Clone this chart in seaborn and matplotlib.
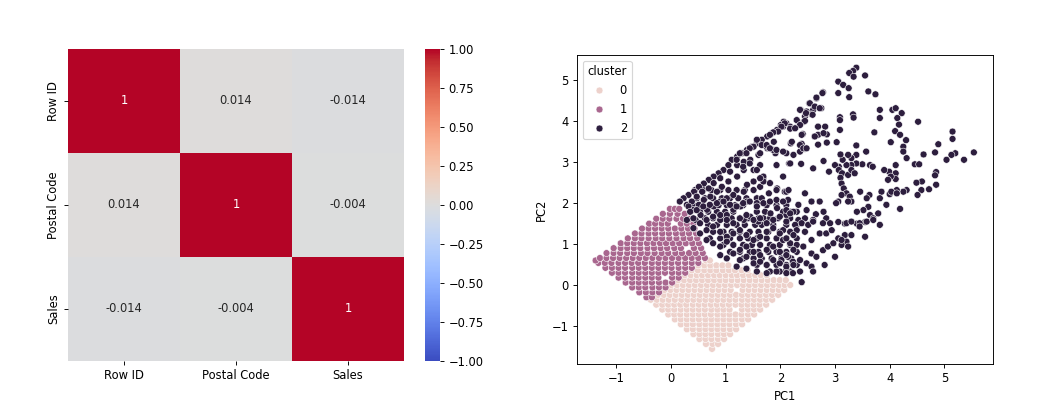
import matplotlib
matplotlib.use("Agg")
import matplotlib.pyplot as plt
import seaborn as sns
import pandas as pd

# ---------------- heatmap data ----------------
features = ["Row ID", "Postal Code", "Sales"]
corr_row_id = [1.0, 0.014, -0.014]
corr_postal = [0.014, 1.0, -0.004]
corr_sales = [-0.014, -0.004, 1.0]

# ---------------- scatter data ----------------
# cluster 0 (light pink): rows of (PC2, [PC1 values])
c0_rows = [
    (-1.56, [0.75]),
    (-1.44, [0.64, 0.76, 0.86]),
    (-1.32, [0.52, 0.63, 0.74, 0.86, 0.97]),
    (-1.20, [0.41, 0.52, 0.63, 0.74, 0.86, 0.97, 1.08]),
    (-1.08, [0.29, 0.40, 0.52, 0.63, 0.74, 0.85, 0.96, 1.08, 1.19]),
    (-0.96, [0.18, 0.29, 0.40, 0.52, 0.63, 0.74, 0.85, 0.96, 1.07, 1.19, 1.30]),
    (-0.84, [0.07, 0.18, 0.29, 0.40, 0.51, 0.63, 0.74, 0.85, 0.96, 1.07, 1.18, 1.30, 1.41]),
    (-0.72, [-0.05, 0.06, 0.17, 0.29, 0.40, 0.51, 0.62, 0.73, 0.85, 0.96, 1.07, 1.18, 1.29, 1.41, 1.52]),
    (-0.60, [-0.16, -0.05, 0.06, 0.18, 0.29, 0.40, 0.51, 0.62, 0.74, 0.85, 0.96, 1.07, 1.30, 1.41, 1.52, 1.63]),
    (-0.48, [-0.27, -0.16, -0.05, 0.06, 0.17, 0.28, 0.40, 0.51, 0.62, 0.73, 0.84, 0.95, 1.06, 1.18, 1.29, 1.40, 1.51, 1.62, 1.74]),
    (-0.36, [-0.37, -0.26, -0.15, -0.04, 0.07, 0.19, 0.30, 0.41, 0.52, 0.63, 0.74, 0.85, 0.96, 1.07, 1.18, 1.30, 1.41, 1.52, 1.63, 1.74, 1.85]),
    (-0.24, [-0.24, -0.13, -0.02, 0.09, 0.20, 0.31, 0.42, 0.53, 0.64, 0.75, 0.86, 0.97, 1.08, 1.19, 1.30, 1.41, 1.52, 1.63, 1.74, 1.85, 1.96]),
    (-0.12, [-0.12, -0.01, 0.10, 0.21, 0.32, 0.43, 0.54, 0.65, 0.76, 0.87, 0.98, 1.09, 1.31, 1.42, 1.53, 1.64, 1.75, 1.86, 1.97, 2.07]),
    (0.00, [0.00, 0.11, 0.22, 0.33, 0.44, 0.55, 0.66, 0.77, 0.88, 0.99, 1.10, 1.21, 1.32, 1.43, 1.54, 1.65, 1.76, 1.87, 1.98, 2.08, 2.18]),
    (0.12, [0.13, 0.24, 0.35, 0.46, 0.57, 0.68, 0.79, 0.90, 1.00, 1.11, 1.22, 1.33, 1.44, 1.55, 1.66, 1.77, 1.88, 1.99, 2.10]),
    (0.24, [0.25, 0.36, 0.47, 0.57, 0.68, 0.79, 0.89, 1.00, 1.11, 1.21, 1.32, 1.43, 1.54, 1.64, 1.75]),
    (0.36, [0.38, 0.49, 0.61, 0.72, 0.83, 0.95, 1.06, 1.17, 1.29, 1.40]),
    (0.48, [0.50, 0.61, 0.72, 0.83, 0.94, 1.05]),
    (0.60, [0.64, 0.71]),
]

# cluster 1 (mauve): rows of (PC2, [PC1 values])
c1_rows = [
    (-0.30, [-0.45, -0.35]),
    (-0.18, [-0.58, -0.46, -0.34, -0.22]),
    (-0.06, [-0.71, -0.59, -0.47, -0.34, -0.22, -0.10]),
    (0.06, [-0.83, -0.71, -0.59, -0.47, -0.35, -0.22, -0.10, 0.02]),
    (0.18, [-0.96, -0.84, -0.71, -0.59, -0.47, -0.35, -0.23, 0.02, 0.14]),
    (0.30, [-1.08, -0.96, -0.84, -0.71, -0.59, -0.47, -0.35, -0.23, -0.11, 0.02, 0.14, 0.26]),
    (0.42, [-1.20, -1.08, -0.96, -0.84, -0.71, -0.59, -0.47, -0.35, -0.23, -0.11, 0.01, 0.14, 0.26, 0.38]),
    (0.54, [-1.33, -1.21, -1.09, -0.96, -0.84, -0.72, -0.60, -0.48, -0.35, -0.23, -0.11, 0.01, 0.13, 0.26, 0.38, 0.50]),
    (0.60, [-1.38]),
    (0.66, [-1.30, -1.18, -1.06, -0.94, -0.82, -0.70, -0.58, -0.46, -0.34, -0.22, -0.10, 0.02, 0.14, 0.26, 0.38, 0.50, 0.62]),
    (0.78, [-1.18, -1.05, -0.93, -0.80, -0.68, -0.55, -0.43, -0.30, -0.17, -0.05, 0.08, 0.20, 0.33, 0.45, 0.58]),
    (0.90, [-1.05, -0.92, -0.80, -0.68, -0.56, -0.43, -0.31, -0.19, -0.07, 0.06, 0.18, 0.42, 0.55]),
    (1.02, [-0.92, -0.80, -0.68, -0.56, -0.44, -0.32, -0.20, -0.09, 0.03, 0.15, 0.27, 0.39, 0.51]),
    (1.14, [-0.79, -0.66, -0.54, -0.41, -0.28, -0.16, -0.03, 0.10, 0.23, 0.35, 0.48]),
    (1.26, [-0.66, -0.54, -0.41, -0.29, -0.16, -0.04, 0.09, 0.21, 0.33, 0.46]),
    (1.38, [-0.53, -0.41, -0.29, -0.17, -0.05, 0.07, 0.19, 0.31, 0.43]),
    (1.50, [-0.40, -0.29, -0.17, -0.06, 0.18, 0.29, 0.41]),
    (1.62, [-0.27, -0.15, -0.03, 0.10, 0.22, 0.34]),
    (1.74, [-0.15, -0.02, 0.12, 0.25]),
    (1.86, [-0.02, 0.07, 0.15]),
]

# cluster 2 (dark), part read as rows of (PC2, [PC1 values]) in the densest zone
c2_rows = [
    (2.32, [0.44, 0.59, 0.74, 0.90, 1.05, 1.20, 1.35, 1.51]),
    (2.12, [0.47, 0.62, 0.77, 0.93, 1.08, 1.23, 1.38, 1.57]),
    (1.95, [0.41, 0.56, 0.71, 0.87, 1.02, 1.17, 1.32, 1.75, 1.93, 2.11]),
    (1.79, [0.53, 0.68, 0.84, 0.99, 1.14, 1.57, 1.72, 2.05, 2.18, 2.30]),
    (1.63, [0.62, 0.77, 0.96, 1.11, 1.26, 1.41, 1.60, 1.81, 1.96, 2.18]),
    (1.47, [0.68, 0.84, 1.02, 1.20, 1.35, 1.54, 1.66, 1.87, 2.11, 2.30]),
    (1.30, [0.77, 0.96, 1.11, 1.26, 1.44, 1.60, 1.78, 1.99, 2.18]),
    (1.14, [0.71, 0.90, 1.08, 1.26, 1.41, 1.57, 1.75, 1.93, 2.11, 2.30]),
    (0.98, [0.96, 1.14, 1.32, 1.48, 1.63, 1.81, 1.99, 2.18]),
    (0.81, [1.08, 1.26, 1.44, 1.60, 1.78, 1.93, 2.11, 2.30]),
    (0.65, [1.32, 1.51, 1.66, 1.84, 2.02, 2.20]),
    (0.49, [1.57, 1.75, 1.93, 2.11, 2.30]),
    (0.33, [1.81, 1.99, 2.18, 2.36]),
]

# cluster 2 (dark): individual (PC1, PC2) points
c2_points = [
    # upper right sparse area
    (3.39, 5.31), (3.33, 5.23), (3.26, 5.18), (3.34, 5.09), (3.55, 5.12), (3.06, 4.97), (3.15, 4.89),
    (3.25, 4.81), (3.06, 4.69), (3.26, 4.59), (2.78, 4.71), (2.66, 4.56), (3.61, 4.73), (3.74, 4.66),
    (2.53, 4.44), (2.63, 4.36), (2.75, 4.32), (2.60, 4.28), (2.48, 4.24), (2.37, 4.28), (2.45, 4.12),
    (2.57, 4.17), (2.30, 4.03), (2.11, 3.95), (2.05, 3.87), (2.18, 3.87), (2.27, 3.83), (2.43, 3.99),
    (2.69, 3.87), (2.41, 3.69), (2.63, 3.63), (2.69, 3.67), (2.85, 3.68), (3.09, 4.10), (3.09, 4.03),
    (3.33, 4.17), (3.34, 4.09), (3.09, 3.79), (3.82, 4.28), (3.82, 4.08), (4.05, 4.28), (4.11, 4.32),
    (4.22, 4.20), (4.14, 4.08), (4.17, 3.92), (4.52, 3.99), (3.72, 3.73), (4.10, 3.76), (4.19, 3.67),
    (4.30, 3.54), (4.02, 3.49), (4.25, 3.38), (4.25, 3.26), (4.31, 3.10), (4.46, 2.95), (4.54, 2.95),
    (4.89, 3.44), (4.83, 3.24), (4.62, 3.19), (5.15, 3.75), (5.15, 3.57), (5.20, 3.22), (5.13, 3.18),
    (5.04, 3.06), (5.36, 3.06), (5.54, 3.24), (4.85, 2.76), (4.83, 2.68), (4.85, 2.45), (4.72, 2.34),
    (4.58, 2.32), (4.51, 2.20), (4.59, 2.53), (4.49, 2.50), (4.31, 2.32), (4.25, 2.28), (4.13, 2.32),
    (4.00, 2.22), (3.85, 2.28), (3.63, 2.20), (4.19, 1.86), (4.11, 2.93), (3.99, 2.77), (4.11, 2.73),
    (4.11, 2.59), (4.02, 2.65), (3.90, 2.81), (3.97, 2.57), (3.64, 2.93), (3.69, 2.89), (3.50, 2.95),
    (3.39, 2.97), (3.30, 2.93), (3.21, 2.93), (3.14, 3.06), (3.07, 2.89), (3.00, 2.93), (2.89, 2.77),
    (2.79, 3.03), (2.60, 2.85), (2.38, 2.96), (2.24, 3.18), (2.16, 2.97), (3.39, 3.18), (3.30, 3.10),
    (3.24, 3.18), (3.10, 3.19), (3.57, 3.26), (3.39, 3.41), (3.03, 3.49), (2.36, 3.26), (2.45, 3.33),
    (2.39, 3.45), (2.19, 3.46), (2.69, 3.43), (2.85, 3.48), (3.07, 2.81), (3.13, 2.73), (3.10, 2.62),
    (3.12, 2.48), (3.16, 2.36), (3.21, 2.24), (3.27, 2.16), (3.30, 2.04), (3.24, 2.04), (3.12, 2.20),
    (3.06, 2.04), (3.02, 2.00), (3.24, 2.69), (3.30, 2.81), (3.36, 2.73), (2.08, 2.28), (2.14, 2.08),
    (2.33, 1.96), (2.45, 2.24), (2.57, 2.04), (2.72, 2.04), (2.48, 1.83), (2.79, 1.79), (2.65, 1.73),
    (2.84, 1.63), (2.11, 1.71), (2.24, 1.79), (2.11, 1.83), (2.33, 1.59), (2.45, 1.63), (2.60, 1.59),
    (3.46, 2.28), (3.58, 2.12), (3.61, 1.91), (3.52, 1.83), (3.40, 1.79), (3.64, 1.71), (3.70, 1.63),
    (3.79, 1.75), (3.55, 1.54), (3.40, 1.50), (3.18, 1.50), (3.06, 1.54), (3.82, 2.12), (3.94, 1.96),
    (4.03, 2.28), (4.13, 2.24),
    # lower right band
    (2.11, 1.55), (2.27, 1.47), (2.39, 1.51), (2.51, 1.47), (2.60, 1.55), (2.78, 1.51), (2.91, 1.51),
    (3.21, 1.51), (3.30, 1.55), (3.45, 1.51), (3.58, 1.55), (3.70, 1.59), (3.82, 1.47),
    (2.05, 1.34), (2.18, 1.30), (2.30, 1.34), (2.45, 1.30), (2.57, 1.10), (2.72, 1.26), (2.84, 1.26),
    (2.94, 1.34), (3.06, 1.14), (3.18, 1.22), (3.30, 1.22), (3.45, 1.43), (3.55, 1.18), (3.21, 1.06),
    (3.12, 0.98), (3.24, 0.94), (3.00, 0.69),
    (2.05, 1.10), (2.18, 1.02), (2.30, 0.98), (2.42, 0.94), (2.57, 0.77), (2.66, 0.69), (2.78, 0.85),
    (2.87, 0.94), (2.97, 1.02), (3.12, 1.10),
    (2.02, 0.61), (2.14, 0.69), (2.23, 0.57), (2.36, 0.61), (2.48, 0.53), (2.57, 0.45), (2.60, 0.33),
    (2.39, 0.07), (2.81, 0.49), (2.11, 0.37), (2.23, 0.29),
    # upper-left edge of the dark band
    (2.06, 3.99), (2.01, 3.91), (1.94, 3.79), (1.85, 3.71), (1.76, 3.63), (1.66, 3.55), (1.57, 3.46),
    (1.48, 3.38), (1.39, 3.30), (1.30, 3.22), (1.21, 3.14), (1.11, 3.06), (1.05, 2.93), (0.96, 2.81),
    (0.87, 2.73), (0.78, 2.65), (0.69, 2.57), (0.60, 2.48), (0.51, 2.40), (0.42, 2.28), (0.32, 2.20),
    (0.23, 2.12), (0.16, 2.04), (0.29, 1.96),
    # dense dark part near the base
    (1.88, 3.50), (1.91, 3.22), (1.76, 3.34), (1.60, 3.18), (1.45, 3.06), (1.33, 3.01), (1.21, 2.93),
    (1.08, 2.77), (0.90, 2.61), (0.78, 2.49), (0.69, 2.36), (0.57, 2.28), (0.47, 2.16), (0.38, 2.04),
    (0.32, 1.92), (1.63, 2.93), (1.51, 2.81), (1.33, 2.81), (1.21, 2.65), (1.05, 2.53), (0.93, 2.40),
    (0.84, 2.28), (0.72, 2.16), (0.60, 2.08), (0.51, 1.96), (0.42, 1.84), (1.69, 2.61), (1.51, 2.53),
    (1.39, 2.45), (1.33, 2.28), (1.14, 2.20), (1.02, 2.12), (0.90, 2.04), (0.78, 1.92), (0.66, 1.84),
    (0.54, 1.71), (0.45, 1.59), (1.94, 2.36), (1.79, 2.24), (1.66, 2.12), (1.57, 2.00), (1.39, 2.04),
    (1.27, 1.92), (1.14, 1.84), (1.02, 1.71), (0.90, 1.59), (1.94, 1.88), (1.82, 1.75), (1.69, 1.63),
    (1.60, 1.55), (1.45, 1.67), (1.33, 1.59),
    (0.35, 1.79), (0.47, 1.83), (0.59, 1.92), (0.71, 1.96), (0.84, 2.00), (0.96, 2.04), (1.08, 1.96),
    (1.20, 1.92), (1.32, 2.00), (1.44, 2.04), (1.57, 1.92), (1.69, 2.00), (1.81, 2.04), (1.93, 2.08),
    (2.11, 2.28), (2.05, 2.04),
    (0.29, 1.59), (0.41, 1.63), (0.53, 1.51), (0.65, 1.59), (0.77, 1.67), (0.90, 1.71), (1.02, 1.59),
    (1.14, 1.51), (1.26, 1.63), (1.38, 1.71), (1.51, 1.59), (1.63, 1.63), (1.75, 1.51), (1.87, 1.59),
    (1.99, 1.67), (2.18, 1.75),
    (0.41, 1.39), (0.53, 1.26), (0.65, 1.34), (0.77, 1.43), (0.90, 1.30), (1.02, 1.18), (1.14, 1.26),
    (1.26, 1.34), (1.38, 1.22), (1.51, 1.10), (1.63, 1.18), (1.75, 1.30), (1.87, 1.39), (1.99, 1.26),
    (2.11, 1.14), (2.24, 1.22),
    (0.65, 1.10), (0.77, 1.02), (0.90, 0.94), (1.02, 1.06), (1.14, 0.98), (1.26, 0.86), (1.38, 0.94),
    (1.51, 0.81), (1.63, 0.73), (1.75, 0.86), (1.87, 0.94), (1.99, 0.81), (2.11, 0.73), (2.24, 0.86),
    (0.90, 0.73), (1.02, 0.65), (1.14, 0.77), (1.26, 0.61), (1.38, 0.69), (1.51, 0.53), (1.63, 0.57),
    (1.75, 0.49), (1.87, 0.61), (1.99, 0.53), (2.11, 0.45), (2.24, 0.49),
    (1.20, 0.45), (1.38, 0.40), (1.57, 0.33), (1.75, 0.29), (1.93, 0.33), (2.11, 0.29),
    (1.20, 3.06), (1.32, 2.89), (1.44, 2.97), (1.57, 2.81), (1.69, 2.65), (1.81, 2.49), (1.93, 2.32),
    (1.63, 3.22), (1.51, 3.38), (1.75, 3.38), (1.87, 3.30), (2.11, 3.22), (2.18, 2.97), (1.93, 2.93),
    (2.05, 2.65), (2.15, 2.32), (1.63, 2.40), (1.69, 2.53), (1.63, 2.61),
    # mid band
    (2.77, 4.69), (2.66, 4.58), (2.54, 4.44), (2.63, 4.36), (2.72, 4.32), (2.36, 4.28), (2.47, 4.20),
    (2.59, 4.16), (2.30, 4.03), (2.45, 4.01), (2.69, 3.87), (2.82, 3.87), (2.36, 3.91), (2.08, 3.95),
    (2.02, 3.87), (1.96, 3.75), (1.87, 3.73), (2.18, 3.82), (2.27, 3.83), (1.81, 3.67), (2.63, 3.63),
    (2.79, 3.71), (2.39, 3.67), (2.21, 3.50), (2.36, 3.42), (2.42, 3.34), (2.48, 3.34), (1.57, 3.55),
    (1.66, 3.42), (1.75, 3.42), (1.51, 3.38), (1.44, 3.34), (1.81, 3.34), (1.93, 3.30), (2.05, 3.26),
    (1.26, 3.22), (1.38, 3.22),
]

# ---------------- assemble tables ----------------
corr_df = pd.DataFrame([corr_row_id, corr_postal, corr_sales], index=features, columns=features)

pc1, pc2, cluster = [], [], []
for y, xs in c0_rows:
    for x in xs:
        pc1.append(x); pc2.append(y); cluster.append(0)
for y, xs in c1_rows:
    for x in xs:
        pc1.append(x); pc2.append(y); cluster.append(1)
for y, xs in c2_rows:
    for x in xs:
        pc1.append(x); pc2.append(y); cluster.append(2)
for x, y in c2_points:
    pc1.append(x); pc2.append(y); cluster.append(2)
scatter_df = pd.DataFrame({"PC1": pc1, "PC2": pc2, "cluster": cluster})

# ---------------- figure ----------------
DPI = 83
fig = plt.figure(figsize=(1047 / DPI, 409 / DPI), dpi=DPI)
ax_h = fig.add_axes([0.0649, 0.1174, 0.3209, 0.7628])
ax_cb = fig.add_axes([0.4059, 0.1174, 0.0148, 0.7628])
ax_s = fig.add_axes([0.5511, 0.1100, 0.3973, 0.7555])

sns.heatmap(corr_df, annot=True, cmap="coolwarm", vmin=-1, vmax=1, ax=ax_h, cbar_ax=ax_cb)
ax_h.set_yticklabels(features, rotation=90, va="center")

sns.scatterplot(data=scatter_df, x="PC1", y="PC2", hue="cluster", ax=ax_s)
ax_s.set_xlim(-1.72, 5.89)
ax_s.set_ylim(-1.93, 5.62)
sns.move_legend(ax_s, "upper left")

fig.savefig("out.png", dpi=DPI)
